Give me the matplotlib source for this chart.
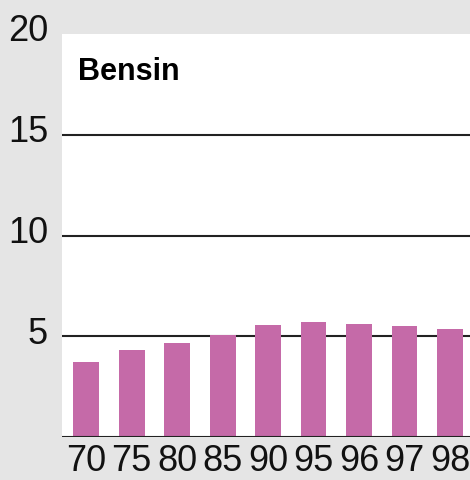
import matplotlib
matplotlib.use("Agg")
import matplotlib.pyplot as plt
import matplotlib.transforms as mtransforms

# data
years = ["70", "75", "80", "85", "90", "95", "96", "97", "98"]
values = [3.75, 4.34, 4.69, 5.06, 5.59, 5.74, 5.64, 5.54, 5.39]
yticks = [5, 10, 15, 20]
title = "Bensin"

bar_color = "#c56aa8"
bg = "#e5e5e5"
fam = ["Liberation Sans", "DejaVu Sans"]

fig = plt.figure(figsize=(4.7, 4.8), dpi=100, facecolor=bg)
ax = fig.add_axes([62 / 470, 42.7 / 480, 1 - 62 / 470, (437.3 - 34) / 480])
ax.set_facecolor("white")

x = list(range(len(years)))
ax.bar(x, values, width=0.57, color=bar_color, zorder=3)

ax.set_xlim(-0.53, 8.44)
ax.set_ylim(0, 20)

# gridlines at 5/10/15, baseline at 0
for yv in [0, 5, 10, 15]:
    ax.axhline(yv, color="#222222", lw=1.5, zorder=2 if yv else 4)

for s in ax.spines.values():
    s.set_visible(False)

ax.set_yticks(yticks)
ax.set_yticklabels([str(v) for v in yticks], fontsize=26, family=fam, color="#111111")
ax.set_xticks(x)
ax.set_xticklabels(years, fontsize=26, family=fam, color="#111111")
ax.tick_params(axis="y", length=0, pad=10)
ax.tick_params(axis="x", length=0, pad=5)

off = mtransforms.ScaledTranslation(0, 6 / 100, fig.dpi_scale_trans)
for lab in ax.get_yticklabels():
    lab.set_transform(lab.get_transform() + off)

ax.text(16 / 408, 0.905, title, transform=ax.transAxes, fontsize=22,
        fontweight="bold", family=fam, color="black", va="center", ha="left")

fig.savefig("out.png", dpi=100, facecolor=bg)
